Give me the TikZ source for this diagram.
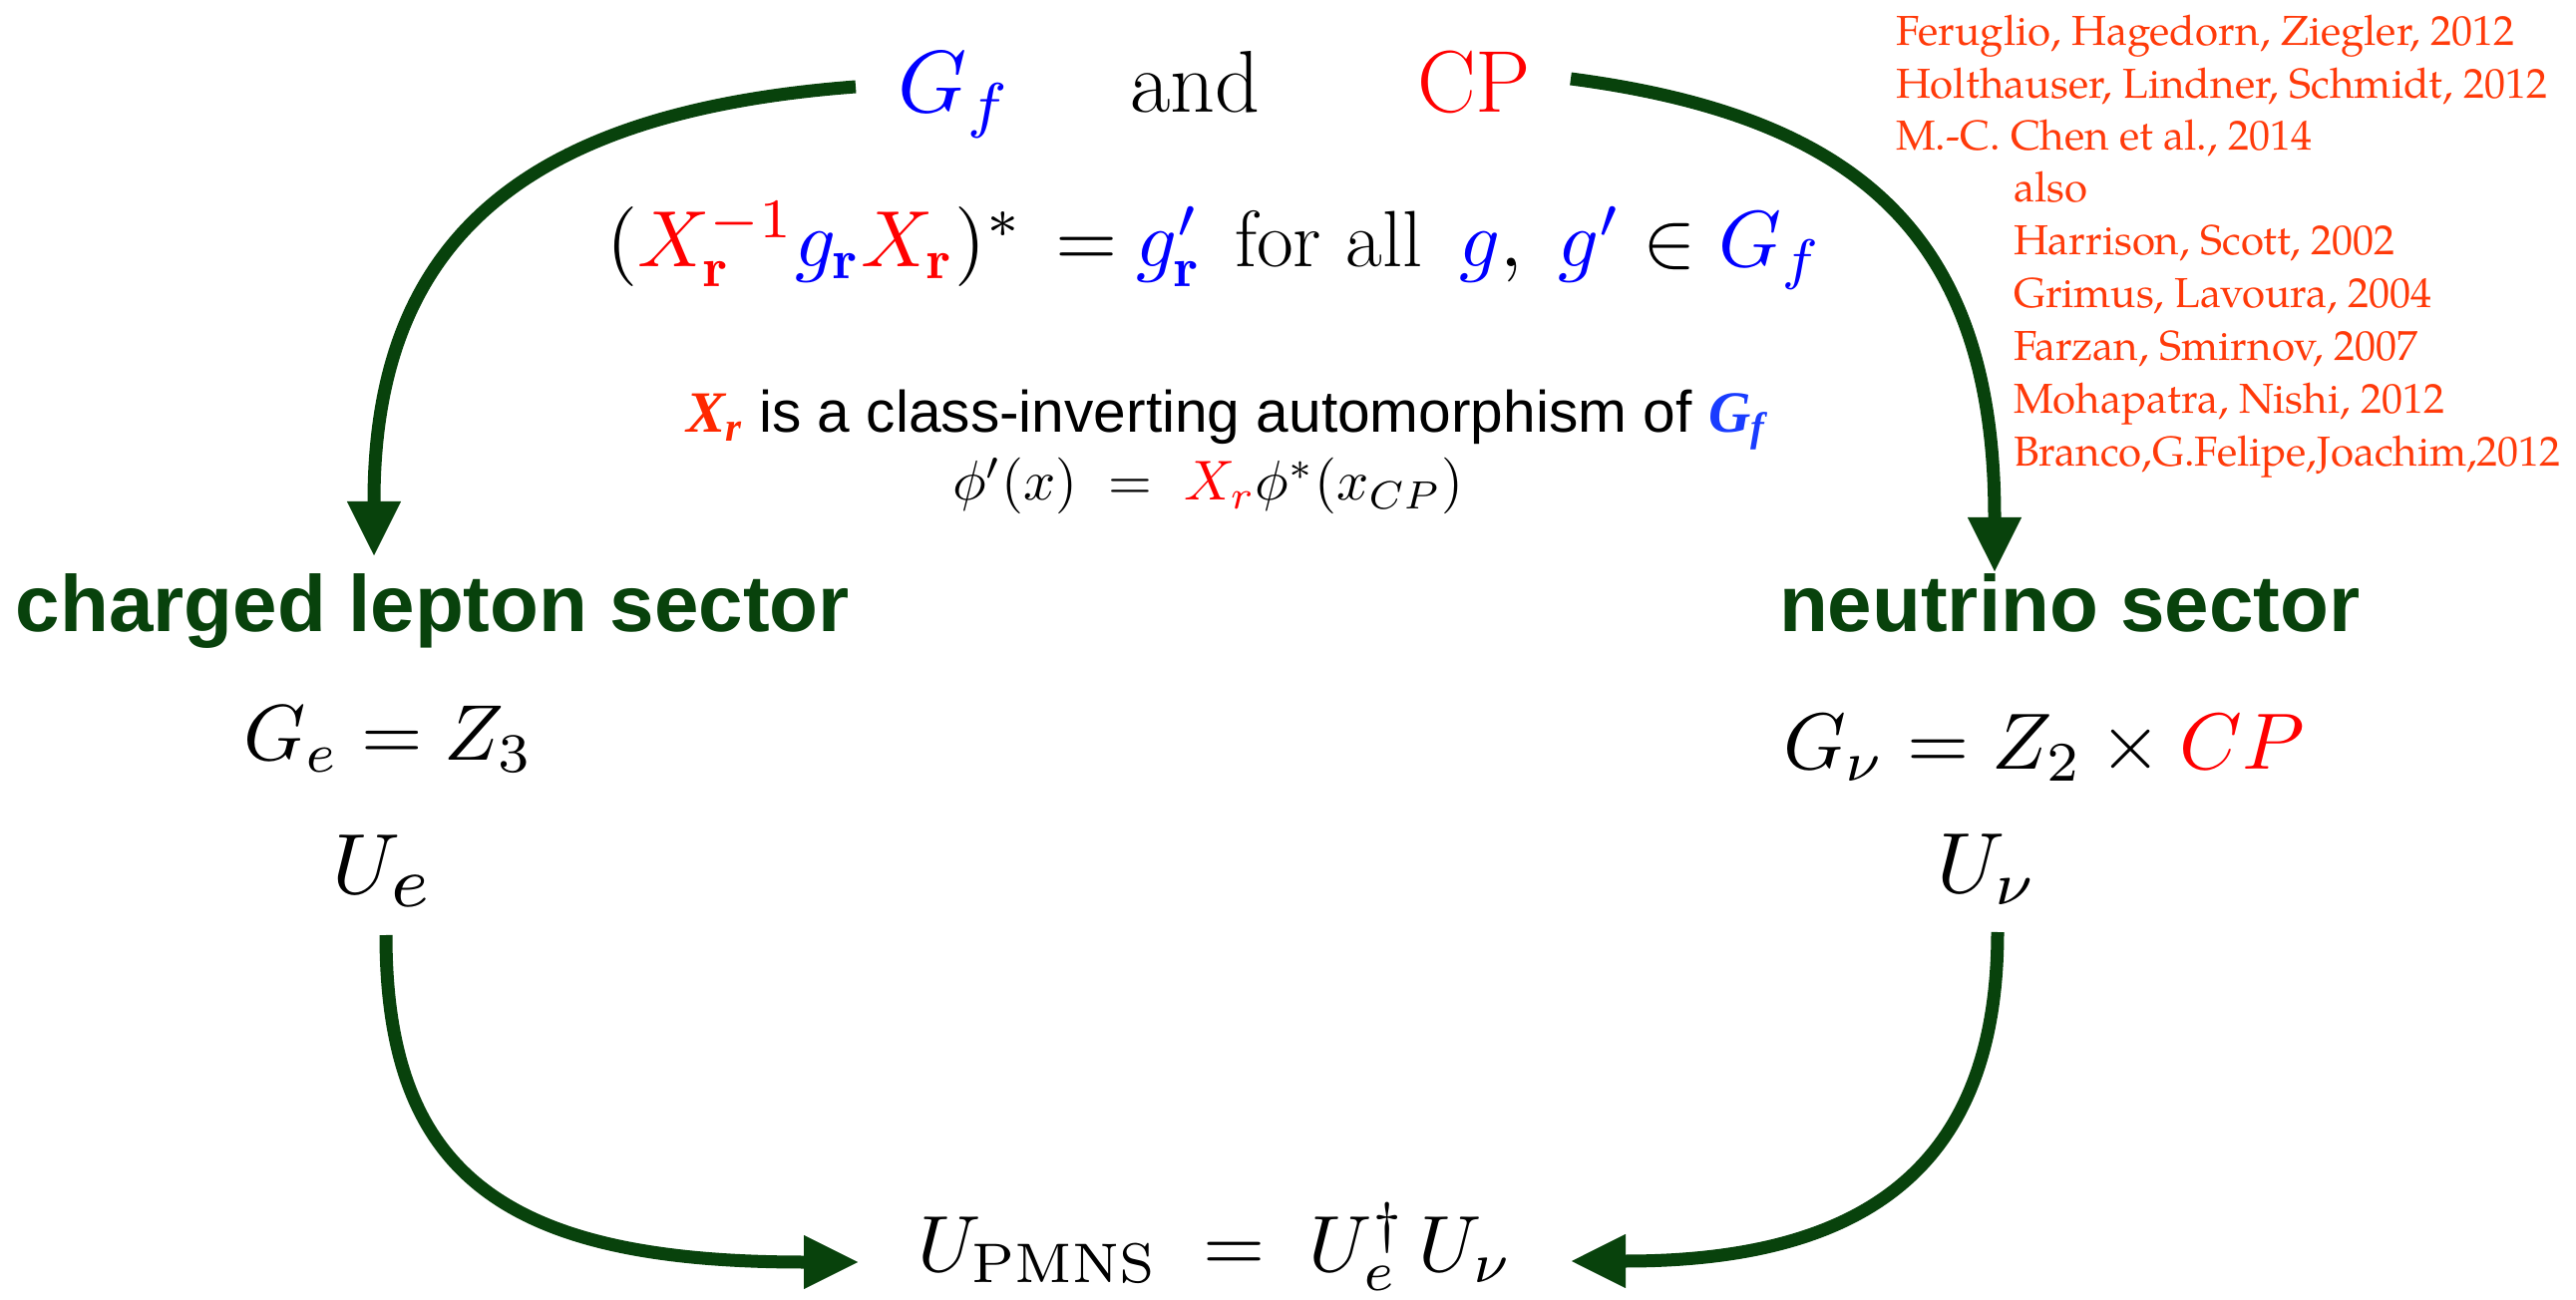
\RequirePackage{fix-cm}
\documentclass[tikz,border=0pt]{standalone}
\usepackage{fontspec}
\newfontfamily\arialf{Liberation Sans}
\newfontfamily\tnrf{Liberation Serif}
\newfontfamily\palaf{TeX Gyre Pagella}
\usetikzlibrary{arrows.meta}
\definecolor{dgreen}{RGB}{8,66,12}
\definecolor{refred}{RGB}{255,58,10}
\definecolor{xred}{RGB}{255,40,0}
\definecolor{gblue}{RGB}{25,60,255}
\newcommand\msc[2]{\scalebox{#1}{$#2$}}
\tikzset{
  txt/.style={inner sep=0pt, outer sep=0pt, anchor=base west, font=\fontsize{10}{12}\selectfont},
  sect/.style={txt, font=\fontsize{20}{24}\selectfont\arialf\bfseries, text=dgreen},
  refl/.style={txt, font=\fontsize{10.5}{13}\selectfont\palaf, text=refred},
  arr/.style={draw=dgreen, line width=3.25pt,
    -{Triangle[length=13.5pt, width=13.5pt, line width=0.1pt]}}
}
\begin{document}
\begin{tikzpicture}[x=0.25pt, y=-0.25pt]
\path[use as bounding box, fill=white] (0,0) rectangle (2583,1304);

% top line
\node[txt] (Gf) at (900,113) {\msc{2.2}{\textcolor{blue}{G_f}}};
\node[txt, font=\fontsize{22}{26}\selectfont] (and) at (1133,113) {and};
\node[txt, font=\fontsize{22}{26}\selectfont, text=red] (CP) at (1421,113) {CP};

% condition
\node[txt] (eqL) at (608,268) {\msc{2.0}{(\textcolor{red}{X_{\mathbf r}^{-1}}\textcolor{blue}{g_{\mathbf r}}\textcolor{red}{X_{\mathbf r}})^*}};
\node[txt] (eqEq) at (1058,268) {\msc{2}{=}};
\node[txt] (eqGr) at (1139,268) {\msc{2}{\textcolor{blue}{g'_{\mathbf r}}}};
\node[txt, font=\fontsize{20}{24}\selectfont] (eqFor) at (1238,268) {for all};
\node[txt] (eqg) at (1463,268) {\msc{2}{\textcolor{blue}{g},}};
\node[txt] (eqIn) at (1562,268) {\msc{2}{\textcolor{blue}{g'} \in \textcolor{blue}{G_f}}};

\node[txt, font=\fontsize{14.66}{17}\selectfont\arialf] (auto) at (688,434)
  {\textcolor{xred}{\tnrf\bfseries\itshape X\textsubscript{r}} is a class-inverting automorphism of \textcolor{gblue}{\tnrf\bfseries\itshape G\textsubscript{f}}};
\node[txt] (phi) at (955,502)
  {\msc{1.41}{\phi'(x) \;=\; \textcolor{red}{X_r}\phi^*(x_{CP})}};

% sectors
\node[sect] (cls) at (16,634) {charged lepton sector};
\node[sect] (nus) at (1784,634) {neutrino sector};

\node[txt] (Ge) at (244,763) {\msc{1.98}{G_e = Z_3}};
\node[txt] (Ue) at (333,897) {\msc{2.15}{U_{\scalebox{1.2}{$\scriptstyle e$}}}};
\node[txt] (Gnu) at (1788,772) {\msc{2.0}{G_\nu = Z_2 \times \textcolor{red}{CP}}};
\node[txt] (Unu) at (1942,895) {\msc{2.15}{U_\nu}};

\node[txt] (pmns) at (920,1275) {\msc{2.0}{U_{\mathrm{PMNS}} \;=\; U_e^{\dagger}\,U_\nu}};

% references
\node[refl] (r1) at (1901,46) {Feruglio, Hagedorn, Ziegler, 2012};
\node[refl] (r2) at (1901,99) {Holthauser, Lindner, Schmidt, 2012};
\node[refl] (r3) at (1901,151) {M.-C. Chen et al., 2014};
\node[refl] (r4) at (2019,203) {also};
\node[refl] (r5) at (2019,256) {Harrison, Scott, 2002};
\node[refl] (r6) at (2019,309) {Grimus, Lavoura, 2004};
\node[refl] (r7) at (2019,362) {Farzan, Smirnov, 2007};
\node[refl] (r8) at (2019,415) {Mohapatra, Nishi, 2012};
\node[refl] (r9) at (2019,468) {Branco,G.Felipe,Joachim,2012};

% arrow end points
\coordinate (tlS) at (858,87);
\coordinate (tlE) at (375,557);
\coordinate (trS) at (1575,79);
\coordinate (trE) at (2000,573);
\coordinate (blS) at (387,938);
\coordinate (blE) at (860,1266);
\coordinate (brS) at (2003,935);
\coordinate (brE) at (1576,1265);

\draw[arr] (tlS) .. controls (530,112) and (375,237) .. (tlE);
\draw[arr] (trS) .. controls (1864,117) and (2000,237) .. (trE);
\draw[arr] (blS) .. controls (387,1181) and (510,1266) .. (blE);
\draw[arr] (brS) .. controls (2003,1166) and (1875,1265) .. (brE);
\end{tikzpicture}
\end{document}
